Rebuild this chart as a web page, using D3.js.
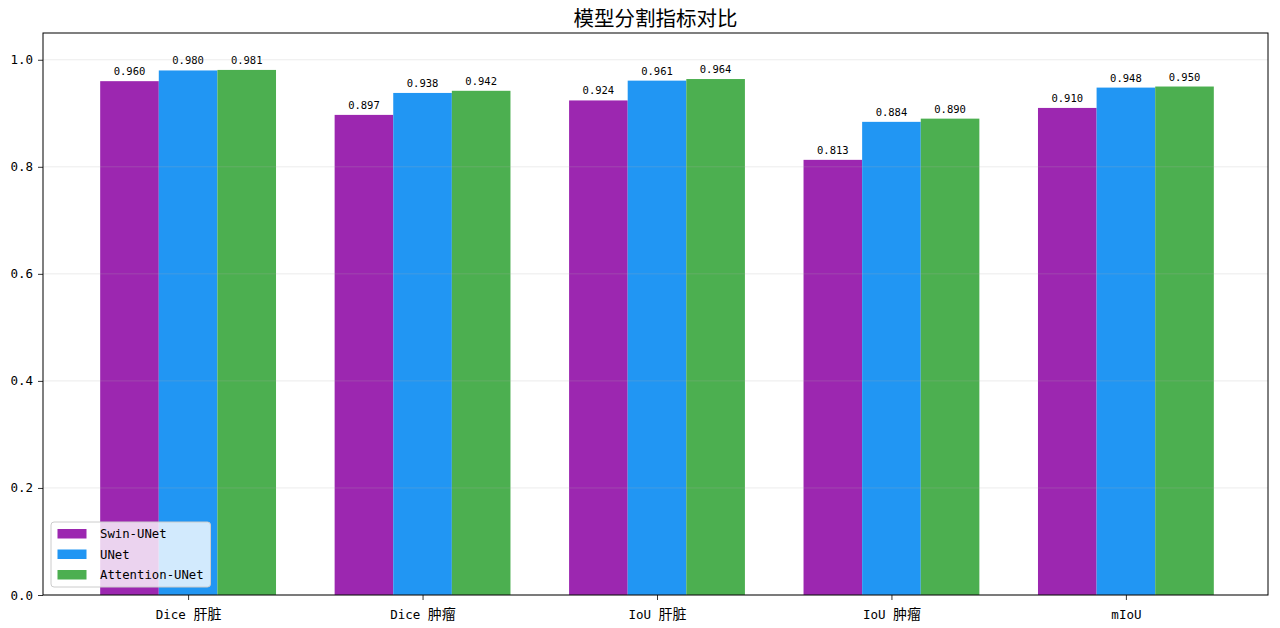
<!DOCTYPE html>
<html>
<head>
<meta charset="utf-8">
<script src="https://cdn.jsdelivr.net/npm/d3@7"></script>
<style>
  html, body { margin: 0; padding: 0; background: #fff; }
  svg { display: block; }
</style>
</head>
<body>
<main></main>
<script>
// Data
let categories = ['Dice 肝脏', 'Dice 肿瘤', 'IoU 肝脏', 'IoU 肿瘤', 'mIoU']
let seriesNames = ['Swin-UNet', 'UNet', 'Attention-UNet']
let swinUNet = [0.960, 0.897, 0.924, 0.813, 0.910]
let uNet = [0.980, 0.938, 0.961, 0.884, 0.948]
let attentionUNet = [0.981, 0.942, 0.964, 0.890, 0.950]
let yTicks = [0.0, 0.2, 0.4, 0.6, 0.8, 1.0]
let colors = ['#9C27B0', '#2196F3', '#4CAF50']

let series = [swinUNet, uNet, attentionUNet]

let W = 1280, H = 628
let margin = {top: 33, right: 12, bottom: 33, left: 43}
let barW = 0.25

let latin = "'DejaVu Sans Mono', 'Noto Sans CJK SC', monospace"
let cjk = "'Noto Sans CJK SC', sans-serif"

let svg = d3.select('main')
  .append('svg')
  .attr('width', W)
  .attr('height', H)

// x in category units like matplotlib: bars at i-0.25, i, i+0.25
let x = d3.scaleLinear()
          .domain([-0.6125, categories.length - 1 + 0.6125])
          .range([margin.left + 1.5, W - margin.right + 1.5])

let y = d3.scaleLinear()
          .domain([0, 1.05])
          .range([H - margin.bottom, margin.top])

// Bars
let bg = svg.append('g')
series.forEach((vals, s) => {
  let off = (s - 1) * barW
  bg.selectAll('rect.s' + s)
    .data(vals)
    .enter()
    .append('rect')
    .attr('class', 's' + s)
    .attr('x', (v, i) => x(i + off - barW / 2))
    .attr('y', v => y(v))
    .attr('width', x(barW) - x(0))
    .attr('height', v => y(0) - y(v))
    .style('fill', colors[s])
})

// Grid lines (drawn over bars, faint)
svg.append('g')
   .selectAll('line')
   .data(yTicks)
   .enter()
   .append('line')
   .attr('x1', margin.left)
   .attr('x2', W - margin.right)
   .attr('y1', d => y(d))
   .attr('y2', d => y(d))
   .style('stroke', '#b0b0b0')
   .style('stroke-opacity', 0.3)
   .style('stroke-width', 0.8)

// Value labels
series.forEach((vals, s) => {
  let off = (s - 1) * barW
  bg.selectAll('text.s' + s)
    .data(vals)
    .enter()
    .append('text')
    .attr('class', 's' + s)
    .attr('x', (v, i) => x(i + off))
    .attr('y', v => y(v) - 6)
    .attr('text-anchor', 'middle')
    .style('font-family', latin)
    .style('font-size', '10.5px')
    .style('fill', '#000')
    .text(v => v.toFixed(3))
})

// Axes
let xAxis = svg.append('g')
   .attr('transform', `translate(0, ${y(0)})`)
   .call(d3.axisBottom(x).tickValues(d3.range(categories.length)).tickSize(5).tickPadding(6).tickFormat(''))
xAxis.select('.domain').remove()

xAxis.selectAll('.tick').append('text')
   .attr('y', 24)
   .attr('text-anchor', 'middle')
   .style('fill', '#000')
   .each(function(d) {
     let parts = categories[d].split(' ')
     let t = d3.select(this)
     t.append('tspan').style('font-family', latin).style('font-size', '12.5px')
      .text(parts[0] + (parts.length > 1 ? ' ' : ''))
     if (parts.length > 1) {
       t.append('tspan').style('font-family', cjk).style('font-size', '14px').text(parts[1])
     }
   })

let yAxis = svg.append('g')
   .attr('transform', `translate(${margin.left}, 0)`)
   .call(d3.axisLeft(y).tickValues(yTicks).tickSize(5).tickPadding(5).tickFormat(d3.format('.1f')))
yAxis.select('.domain').remove()
yAxis.selectAll('text')
   .style('font-family', latin)
   .style('font-size', '12.5px')
   .style('fill', '#000')

svg.selectAll('.tick line').style('stroke', '#000').style('stroke-width', 0.8)

// Frame
svg.append('rect')
   .attr('x', margin.left)
   .attr('y', margin.top)
   .attr('width', W - margin.right - margin.left)
   .attr('height', H - margin.bottom - margin.top)
   .style('fill', 'none')
   .style('stroke', '#000')
   .style('stroke-width', 1)

// Title
svg.append('text')
   .attr('x', (margin.left + W - margin.right) / 2)
   .attr('y', 26)
   .attr('text-anchor', 'middle')
   .style('font-family', cjk)
   .style('font-size', '20.5px')
   .style('fill', '#000')
   .text('模型分割指标对比')

// Legend
let lg = svg.append('g').attr('transform', 'translate(51, 522)')
lg.append('rect')
  .attr('width', 159.5)
  .attr('height', 65)
  .attr('rx', 3)
  .style('fill', '#fff')
  .style('fill-opacity', 0.8)
  .style('stroke', '#cccccc')
  .style('stroke-width', 1)

seriesNames.forEach((name, i) => {
  let row = lg.append('g').attr('transform', `translate(0, ${i * 20.5})`)
  row.append('rect')
     .attr('x', 6.5)
     .attr('y', 7)
     .attr('width', 29)
     .attr('height', 9.5)
     .style('fill', colors[i])
  row.append('text')
     .attr('x', 49)
     .attr('y', 16)
     .style('font-family', latin)
     .style('font-size', '12.3px')
     .style('fill', '#000')
     .text(name)
})
</script>
</body>
</html>
